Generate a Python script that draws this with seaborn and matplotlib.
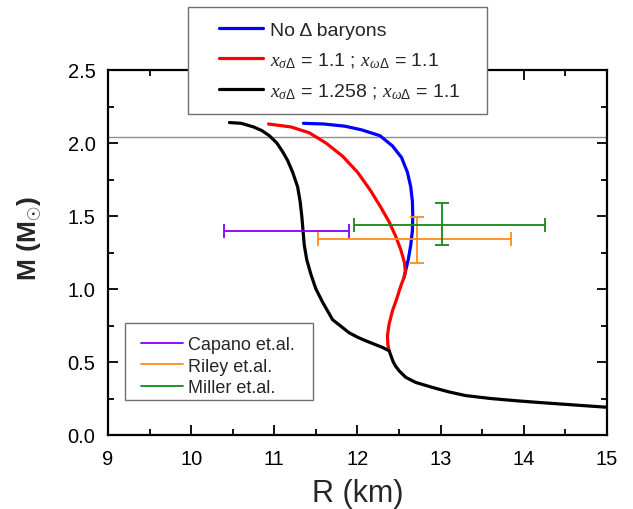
import numpy as np
import pandas as pd
import matplotlib
matplotlib.use("Agg")
import matplotlib.pyplot as plt
from matplotlib.lines import Line2D
from matplotlib.patches import Rectangle
import seaborn as sns

# ---- data ----
no_delta_R = [11.35, 11.6, 11.85, 12.05, 12.27, 12.42, 12.53, 12.60, 12.64, 12.66, 12.665, 12.66, 12.64, 12.61, 12.585, 12.56]
no_delta_M = [2.135, 2.13, 2.115, 2.09, 2.05, 1.98, 1.90, 1.80, 1.70, 1.60, 1.50, 1.40, 1.30, 1.20, 1.14, 1.08]

d11_R = [10.93, 11.2, 11.42, 11.62, 11.82, 12.0, 12.15, 12.28, 12.38, 12.46, 12.52, 12.565, 12.575, 12.56, 12.52, 12.47, 12.42, 12.38, 12.36, 12.365, 12.38]
d11_M = [2.13, 2.11, 2.07, 2.00, 1.91, 1.80, 1.68, 1.56, 1.46, 1.36, 1.27, 1.18, 1.12, 1.08, 1.02, 0.93, 0.85, 0.76, 0.68, 0.62, 0.577]

d1258_R = [10.46, 10.6, 10.75, 10.85, 10.94, 11.03, 11.10, 11.16, 11.22, 11.28, 11.31, 11.33, 11.345, 11.36, 11.39, 11.44, 11.50, 11.58, 11.64, 11.70, 11.80, 11.90, 12.00, 12.10, 12.30, 12.38, 12.43, 12.46, 12.50, 12.58, 12.70, 12.90, 13.10, 13.30, 13.60, 13.90, 14.20, 14.50, 14.75, 15.0]
d1258_M = [2.14, 2.135, 2.11, 2.085, 2.05, 2.00, 1.94, 1.88, 1.80, 1.70, 1.60, 1.50, 1.40, 1.30, 1.20, 1.10, 1.00, 0.91, 0.85, 0.79, 0.745, 0.70, 0.67, 0.645, 0.60, 0.577, 0.50, 0.47, 0.44, 0.395, 0.36, 0.326, 0.295, 0.27, 0.25, 0.235, 0.222, 0.21, 0.20, 0.19]

curve_labels = ["No \u0394 baryons",
                r"$x_{\sigma\Delta}$ = 1.1 ; $x_{\omega\Delta}$ = 1.1",
                r"$x_{\sigma\Delta}$ = 1.258 ; $x_{\omega\Delta}$ = 1.1"]
curve_colors = ["#0000FF", "#FF0000", "#000000"]

obs_labels = ["Capano et.al.", "Riley et.al.", "Miller et.al."]
obs_colors = ["#8000FF", "#FF8C1A", "#128A12"]
obs_R = [11.0, 12.71, 13.02]
obs_R_lo = [0.6, 1.19, 1.06]
obs_R_hi = [0.9, 1.14, 1.24]
obs_M = [1.4, 1.34, 1.44]
obs_M_lo = [0.0, 0.16, 0.14]
obs_M_hi = [0.0, 0.15, 0.15]

mass_limit = 2.04

# ---- style ----
sns.set_theme(style="ticks")
plt.rcParams["font.family"] = ["Liberation Sans", "DejaVu Sans"]
plt.rcParams["mathtext.fontset"] = "custom"
plt.rcParams["mathtext.rm"] = "Liberation Sans"
plt.rcParams["mathtext.sf"] = "Liberation Sans"
plt.rcParams["mathtext.it"] = "Liberation Serif:italic"

W, H = 633, 510
fig = plt.figure(figsize=(W / 100, H / 100), dpi=100)
ax = fig.add_axes([108 / W, 1 - 436 / H, 499 / W, 365 / H])

ax.axhline(mass_limit, color="#909090", lw=1.0, zorder=1)

series = [(no_delta_R, no_delta_M), (d11_R, d11_M), (d1258_R, d1258_M)]
for (r, m), lab, col in zip(series, curve_labels, curve_colors):
    df = pd.DataFrame({"R": r, "M": m})
    sns.lineplot(data=df, x="R", y="M", sort=False, estimator=None,
                 color=col, lw=2.3, ax=ax, label=lab, legend=False, zorder=3)

for i in range(len(obs_labels)):
    yerr = None
    if obs_M_lo[i] > 0 or obs_M_hi[i] > 0:
        yerr = [[obs_M_lo[i]], [obs_M_hi[i]]]
    ax.errorbar([obs_R[i]], [obs_M[i]], xerr=[[obs_R_lo[i]], [obs_R_hi[i]]], yerr=yerr,
                fmt="none", ecolor=obs_colors[i], elinewidth=1.3, capsize=5,
                capthick=1.3, zorder=4)

ax.set_xlim(9, 15)
ax.set_ylim(0, 2.5)
ax.set_xticks(np.arange(9, 15.01, 1))
ax.set_xticks(np.arange(9.5, 15, 1), minor=True)
ax.set_yticks(np.arange(0, 2.51, 0.5))
ax.set_yticks(np.arange(0.25, 2.5, 0.5), minor=True)
ax.set_yticklabels([f"{v:.1f}" for v in np.arange(0, 2.51, 0.5)])
ax.tick_params(which="both", direction="in", top=True, right=True, labelsize=14.5,
               width=1.3, colors="black")
ax.tick_params(axis="x", which="major", pad=10)
ax.tick_params(axis="y", which="major", pad=9)
ax.tick_params(which="major", length=7)
ax.tick_params(which="minor", length=4.5)
for s in ax.spines.values():
    s.set_linewidth(1.6)
    s.set_color("black")

ax.set_xlabel("R (km)", fontsize=22, labelpad=7)
ax.set_ylabel(r"M (M$_{\odot}$)", fontsize=19, fontweight="bold")
ax.yaxis.set_label_coords(-0.128, 0.54)

# legend frames (manual, in figure pixels)
fig.patches.append(Rectangle((188 / W, 1 - 115 / H), 299 / W, 107 / H,
                             transform=fig.transFigure, facecolor="white",
                             edgecolor="#707070", lw=1.0, zorder=1))
fig.patches.append(Rectangle((125 / W, 1 - 401 / H), 188 / W, 77 / H,
                             transform=fig.transFigure, facecolor="white",
                             edgecolor="#707070", lw=1.0, zorder=1))

h1 = [Line2D([], [], color=c, lw=2.3) for c in curve_colors]
fig.legend(h1, curve_labels, loc="upper left", bbox_to_anchor=(219 / W, 1 - 22 / H),
           bbox_transform=fig.transFigure, fontsize=14, frameon=False,
           handlelength=2.27, handletextpad=0.36, labelspacing=0.6,
           borderpad=0, borderaxespad=0)

h2 = [Line2D([], [], color=c, lw=1.3) for c in obs_colors]
fig.legend(h2, obs_labels, loc="upper left", bbox_to_anchor=(141 / W, 1 - 337 / H),
           bbox_transform=fig.transFigure, fontsize=13, frameon=False,
           handlelength=2.3, handletextpad=0.28, labelspacing=0.25,
           borderpad=0, borderaxespad=0)

fig.savefig("out.png", dpi=100)
